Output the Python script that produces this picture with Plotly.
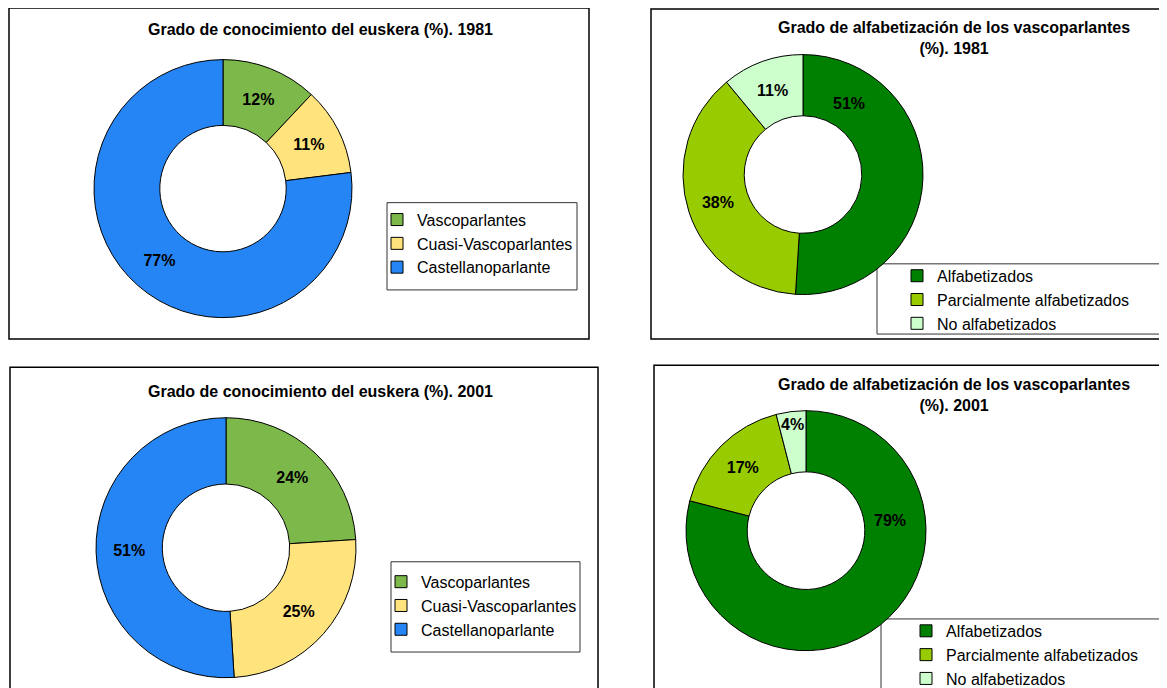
import plotly.graph_objects as go

W, H = 1167, 688
OFF = 8  # margen por defecto del <body> en la página
SY = 0.994  # ajuste vertical observado en la captura

# datos
etiquetas_conoc = ['Vascoparlantes', 'Cuasi-Vascoparlantes', 'Castellanoparlante']
conoc_1981 = [12, 11, 77]
conoc_2001 = [24, 25, 51]

etiquetas_alfa = ['Alfabetizados', 'Parcialmente alfabetizados', 'No alfabetizados']
alfa_1981 = [51, 38, 11]
alfa_2001 = [79, 17, 4]

titulos = [
    'Grado de conocimiento del euskera (%). 1981',
    'Grado de alfabetización de los vascoparlantes<br>(%). 1981',
    'Grado de conocimiento del euskera (%). 2001',
    'Grado de alfabetización de los vascoparlantes<br>(%). 2001',
]

colores_conoc = ['#7cb94a', '#ffe47e', '#2585f5']
colores_alfa = ['#008000', '#99cc00', '#ccffcc']

FUENTE = 'Arial, Liberation Sans, sans-serif'
ETIQ = '%{percent:.0%}'


def px_x(v):
    return (v - OFF) / W


def px_y(v):
    return 1 - (v / SY - OFF) / H


def dominio(cx, cy, r):
    return dict(x=[px_x(cx - r), px_x(cx + r)], y=[px_y(cy + r), px_y(cy - r)])


def dona(etiquetas, valores, colores, dom, leyenda, plantillas):
    return go.Pie(
        labels=etiquetas,
        values=valores,
        hole=0.49,
        sort=False,
        direction='clockwise',
        rotation=0,
        domain=dom,
        marker=dict(colors=colores, line=dict(color='black', width=1)),
        texttemplate=plantillas,
        textposition='inside',
        insidetextorientation='horizontal',
        textfont=dict(family=FUENTE, size=16, color='black', weight='bold'),
        legend=leyenda,
        legendgroup=leyenda,
        hoverinfo='label+percent',
    )


todas = [ETIQ, ETIQ, ETIQ]
# la etiqueta del sector mayor va desplazada en los gráficos de alfabetización
sin_primera = ['', ETIQ, ETIQ]

fig = go.Figure()
fig.add_trace(dona(etiquetas_conoc, conoc_1981, colores_conoc, dominio(223, 188, 129), 'legend', todas))
fig.add_trace(dona(etiquetas_alfa, alfa_1981, colores_alfa, dominio(803, 174, 120), 'legend2', sin_primera))
fig.add_trace(dona(etiquetas_conoc, conoc_2001, colores_conoc, dominio(226, 546, 130), 'legend3', todas))
fig.add_trace(dona(etiquetas_alfa, alfa_2001, colores_alfa, dominio(806, 529, 120), 'legend4', sin_primera))

# marcos de los paneles y de las leyendas
marcos = [
    (9, 8, 589, 338),
    (651, 9, 1180, 338),
    (10, 366, 598, 700),
    (654, 364, 1180, 700),
]
cajas = [
    (387, 202, 577, 289),
    (877, 263, 1180, 333),
    (391, 560, 580, 650),
    (881, 617, 1180, 700),
]
shapes = []
for x0, y0, x1, y1 in marcos:
    shapes.append(dict(type='rect', xref='paper', yref='paper',
                       x0=px_x(x0), x1=px_x(x1), y0=px_y(y1), y1=px_y(y0),
                       line=dict(color='black', width=1.5), layer='below'))
for x0, y0, x1, y1 in cajas:
    shapes.append(dict(type='rect', xref='paper', yref='paper',
                       x0=px_x(x0), x1=px_x(x1), y0=px_y(y1), y1=px_y(y0),
                       fillcolor='white',
                       line=dict(color='#333333', width=1), layer='below'))

# títulos
anot = []
pos_titulos = [(320, 19), (954, 17), (320, 380), (954, 373)]
for t, (x, y) in zip(titulos, pos_titulos):
    anot.append(dict(text=t, x=px_x(x), y=px_y(y), xref='paper', yref='paper',
                     xanchor='center', yanchor='top', showarrow=False, align='center',
                     font=dict(family=FUENTE, size=16, color='black', weight='bold')))

# etiquetas desplazadas del sector de alfabetizados
for val, (x, y) in zip([alfa_1981[0], alfa_2001[0]], [(849, 103), (890, 519)]):
    anot.append(dict(text=f'{val}%', x=px_x(x), y=px_y(y), xref='paper', yref='paper',
                     xanchor='center', yanchor='middle', showarrow=False,
                     font=dict(family=FUENTE, size=16, color='black', weight='bold')))

ley_base = dict(bgcolor='rgba(0,0,0,0)', borderwidth=0, xanchor='left', yanchor='top',
                font=dict(family=FUENTE, size=16, color='black'))

fig.update_layout(
    width=W, height=H,
    margin=dict(l=0, r=0, t=0, b=0),
    paper_bgcolor='white',
    showlegend=True,
    shapes=shapes,
    annotations=anot,
    uniformtext=dict(minsize=15, mode='show'),
    legend=dict(ley_base, x=px_x(377), y=px_y(202)),
    legend2=dict(ley_base, x=px_x(877), y=px_y(258), indentation=20),
    legend3=dict(ley_base, x=px_x(381), y=px_y(563)),
    legend4=dict(ley_base, x=px_x(881), y=px_y(612), indentation=25),
)

fig.write_html('out.html', config={'displayModeBar': False})
